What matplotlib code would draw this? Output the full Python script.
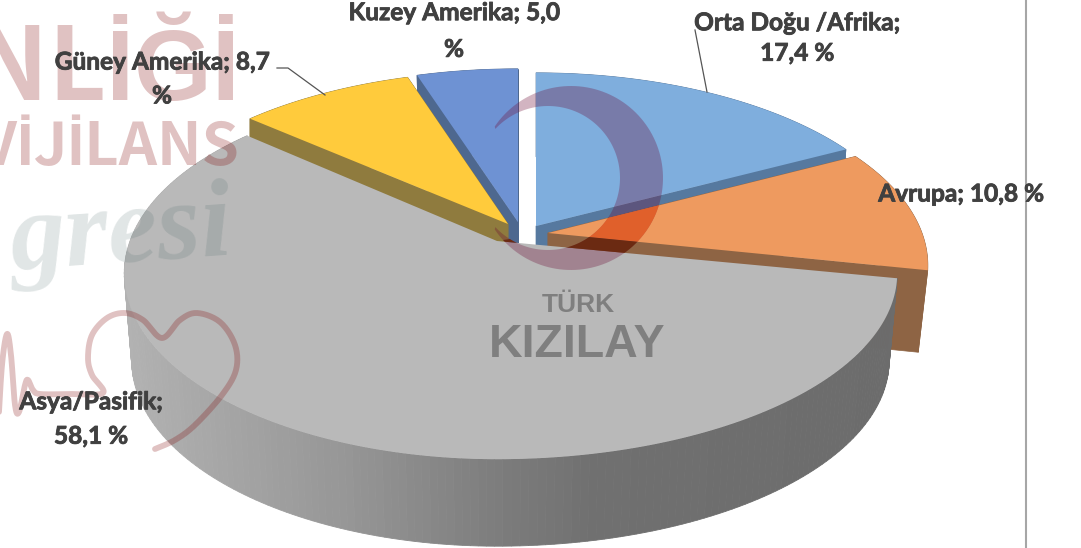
import numpy as np
import matplotlib
matplotlib.use("Agg")
import matplotlib.pyplot as plt
import matplotlib.patheffects as pe
from matplotlib.patches import Polygon

# ---- data
categories = ["Orta Doğu /Afrika", "Avrupa", "Asya/Pasifik", "Güney Amerika", "Kuzey Amerika"]
values = [17.4, 10.8, 58.1, 8.7, 5.0]
labels = ["Orta Doğu /Afrika;\n17,4 %", "Avrupa; 10,8 %", "Asya/Pasifik;\n58,1 %",
          "Güney Amerika; 8,7\n%", "Kuzey Amerika; 5,0\n%"]

# ---- styles (one entry per slice)
top_colors = ["#7FAEDD", "#EE9A5F", "#B9B9B9", "#FFCB3C", "#6E92D3"]
wall_colors = ["#56799F", "#8E6444", None, "#8F7B3E", "#4E688F"]
tips = [(536, 226), (548, 233), (497, 241), (508, 224), (518, 222)]
radii_r = [377, 374, 394, 379, 381]
radii_l = [377, 374, 367, 379, 381]
shrink_x = [0.98, 0.975, 0.98, 1.0, 0.98]
depths = [84, 82, 87, 84, 84]
label_pos = [(797, 38), (961, 194), (91, 419), (162, 79), (454, 31)]
label_ls = [1.39, 1.2, 1.6, 1.57, 1.72]

K, B = 0.175, 180.0     # perspective of the pie disc

fig = plt.figure(figsize=(10.81, 5.48), dpi=100)
ax = fig.add_axes([0, 0, 1, 1])
ax.set_xlim(0, 1081)
ax.set_ylim(548, 0)
ax.axis("off")


def project(theta, tip, ar, al):
    s, c = np.sin(theta), -np.cos(theta)
    w = 1 - K * c
    a = np.where(s >= 0, ar, al)
    return tip[0] + a * s / w, tip[1] + B * c / w


edges = np.concatenate([[0], np.cumsum(values)]) / sum(values) * 2 * np.pi
order = [0, 4, 1, 3, 2]
tops = {}
for i in order:
    t = np.linspace(edges[i], edges[i + 1], 200)
    tip = tips[i]
    x, y = project(t, tip, radii_r[i], radii_l[i])
    lx = tip[0] + (x - tip[0]) * shrink_x[i]
    ly = y + depths[i]
    ltx, lty = tip[0], tip[1] + depths[i]
    z = 2 + order.index(i) * 0.1
    if wall_colors[i]:
        wc = wall_colors[i]
        for e in (0, -1):
            ax.add_patch(Polygon([tip, (x[e], y[e]), (lx[e], ly[e]), (ltx, lty)], fc=wc, ec=wc, lw=0.5, zorder=z))
        ax.add_patch(Polygon(np.r_[np.c_[x, y], np.c_[lx, ly][::-1]], fc=wc, ec=wc, lw=0.5, zorder=z))
    else:
        for j in range(len(t) - 1):
            g = np.interp(x[j], [125, 350, 500, 600, 900], [178, 150, 125, 112, 108]) / 255
            ax.add_patch(Polygon([(x[j], y[j]), (x[j + 1], y[j + 1]), (lx[j + 1], ly[j + 1]), (lx[j], ly[j])],
                                 fc=(g, g, g), ec=(g, g, g), lw=0.6, zorder=z))
    tops[i] = np.r_[[tip], np.c_[x, y]]
    ax.add_patch(Polygon(tops[i], fc=top_colors[i], ec="none", zorder=z + 0.05))

# ---- watermark
WM = (0.5, 0.0, 0.0)
wm_font = ["Noto Sans CJK JP", "Liberation Sans"]
ax.text(241, 100, "ENLİĞİ", family=wm_font, weight="bold", fontsize=72, color=WM, alpha=0.24,
        ha="right", va="baseline", zorder=5, clip_on=True)
ax.text(240, 165, "OVİJİLANS", family=wm_font, weight="bold", fontsize=43, color=WM, alpha=0.24,
        ha="right", va="baseline", zorder=5, clip_on=True)
ax.text(122, 262, "gresi", family="Liberation Serif", style="italic", weight="bold", fontsize=80,
        color=(0.25, 0.38, 0.38), alpha=0.16, ha="center", va="baseline", rotation=4,
        rotation_mode="anchor", zorder=5, clip_on=True)


def smooth(points, n=14):
    p = np.array(points, float)
    p = np.r_[[p[0]], p, [p[-1]]]
    out = []
    for i in range(1, len(p) - 2):
        u = np.linspace(0, 1, n, endpoint=False)[:, None]
        out.append(0.5 * (2 * p[i] + (p[i + 1] - p[i - 1]) * u
                          + (2 * p[i - 1] - 5 * p[i] + 4 * p[i + 1] - p[i + 2]) * u ** 2
                          + (3 * p[i] - p[i - 1] - 3 * p[i + 1] + p[i + 2]) * u ** 3))
    return np.vstack(out + [p[-1:]])


ecg = smooth([(-2, 430), (2, 365), (7, 334), (11, 355), (15, 405), (19, 412), (25, 385), (28, 380),
              (33, 390), (40, 394), (70, 394), (103, 393), (92, 375), (88, 358), (92, 335), (107, 318),
              (125, 313), (143, 320), (162, 338), (180, 320), (197, 313), (220, 322), (235, 345),
              (236, 370), (222, 395), (195, 425), (175, 440), (155, 449)])
ax.plot(ecg[:, 0], ecg[:, 1], color=WM, alpha=0.24, lw=4.2, solid_capstyle="round",
        solid_joinstyle="round", zorder=5)

# crescent, with stronger tints where it crosses the orange slice
a_out = np.radians(np.linspace(-146, 146, 120))
a_in = np.radians(np.linspace(137, -137, 120))
cres = np.r_[np.c_[571 + 92 * np.cos(a_out), 178 + 92 * np.sin(a_out)],
             np.c_[548 + 72 * np.cos(a_in), 178 + 72 * np.sin(a_in)]]
ax.add_patch(Polygon(cres, fc=(0.42, 0.03, 0.2), ec="none", alpha=0.3, zorder=5))
orange_clip = Polygon(tops[1], transform=ax.transData)
over_orange = Polygon(cres, fc="#E0602B", ec="none", zorder=5.1)
ax.add_patch(over_orange)
over_orange.set_clip_path(orange_clip)
wall_clip = Polygon([tops[1][0], tops[1][-1], tops[2][1], tops[2][0]], transform=ax.transData)
over_wall = Polygon(cres, fc="#6B2A12", ec="none", zorder=5.1)
ax.add_patch(over_wall)
over_wall.set_clip_path(wall_clip)

ax.text(578, 312, "TÜRK", family="Liberation Sans", weight="bold", fontsize=19, color="#7F7F7F",
        ha="center", va="baseline", zorder=5)
ax.text(577, 357, "KIZILAY", family="Liberation Sans", weight="bold", fontsize=33.5, color="#7F7F7F",
        ha="center", va="baseline", zorder=5)

# ---- leader lines, frame, labels
ax.plot([277, 288, 325], [68, 68, 95], color="#555555", lw=0.9, zorder=6)
ax.plot([695, 707], [30, 92], color="#555555", lw=0.9, zorder=6)
ax.plot([1026, 1026], [0, 548], color="#A6A6A6", lw=1.5, zorder=6)

for lab, (px, py), ls in zip(labels, label_pos, label_ls):
    ax.text(px, py, lab, family="Lato", weight="bold", fontsize=17.6, color="#404040",
            ha="center", va="center", multialignment="center", linespacing=ls, zorder=7,
            path_effects=[pe.withStroke(linewidth=0.6, foreground="#404040")])

fig.savefig("out.png", dpi=100)
